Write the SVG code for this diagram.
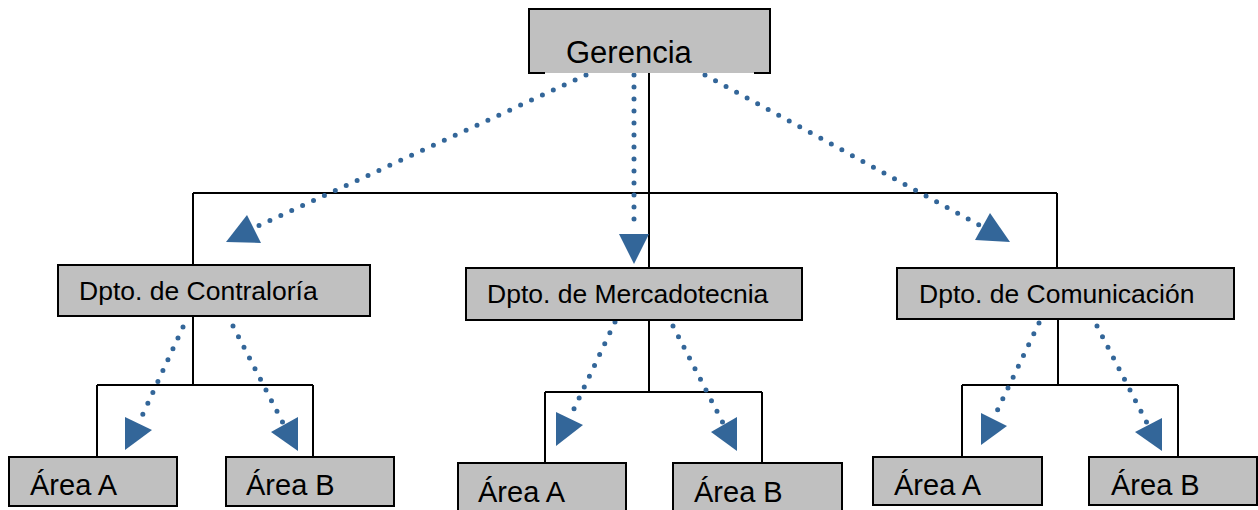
<svg xmlns="http://www.w3.org/2000/svg" width="1258" height="510" viewBox="0 0 1258 510">
<style>
.box{fill:#c0c0c0;stroke:#000;stroke-width:2}
.t{font-family:"Liberation Sans",Arial,sans-serif;fill:#000}
.tree{fill:none;stroke:#000;stroke-width:2}
.dot{fill:none;stroke:#336699;stroke-width:5;stroke-linecap:round;stroke-dasharray:0 12}
.head{fill:#336699}
</style>
<rect width="1258" height="510" fill="#fff"/>
<g id="connectors">
<path class="tree" d="M649,73V193M193,193H1057M193,193V265M649,193V268M1057,193V268M193,316V385M97,385H313M97,385V457M313,385V457M649,320V392M545,392H762M545,392V463M762,392V463M1058,319V385M962,385H1178M962,385V457M1178,385V457"/>
<path class="dot" d="M586,75L256,227"/>
<polygon class="head" points="247,215 226,242 261,243"/>
<path class="dot" d="M634,75V231"/>
<polygon class="head" points="619,234 649,234 634,264"/>
<path class="dot" d="M705,75L981,226"/>
<polygon class="head" points="990,213 975,240 1010,242"/>
<path class="dot" d="M183,327L142,416"/>
<polygon class="head" points="125,417 125,450 152,430"/>
<path class="dot" d="M233,326L283,423"/>
<polygon class="head" points="298,417 298,451 271,432"/>
<path class="dot" d="M615,322L573,411"/>
<polygon class="head" points="556,412 556,446 583,425"/>
<path class="dot" d="M673,326L723,423"/>
<polygon class="head" points="737,417 737,451 711,432"/>
<path class="dot" d="M1039,323L997,411"/>
<polygon class="head" points="981,413 981,445 1007,426"/>
<path class="dot" d="M1097,326L1147,423"/>
<polygon class="head" points="1162,418 1162,451 1135,432"/>
</g>
<g id="gerencia">
<rect x="529" y="9" width="241" height="64" fill="#c0c0c0"/>
<path class="tree" d="M545,73H529V9H770V73H754"/>
<text class="t" x="566" y="63" font-size="31">Gerencia</text>
</g>
<g id="contraloria">
<rect class="box" x="58" y="265" width="312" height="51"/>
<text class="t" x="79" y="300" font-size="26.5">Dpto. de Contraloría</text>
</g>
<g id="mercadotecnia">
<rect class="box" x="466" y="268" width="336" height="52"/>
<text class="t" x="487" y="303" font-size="26.5">Dpto. de Mercadotecnia</text>
</g>
<g id="comunicacion">
<rect class="box" x="897" y="268" width="337" height="51"/>
<text class="t" x="919" y="303" font-size="26.5">Dpto. de Comunicación</text>
</g>
<g id="contraloria-area-a">
<rect class="box" x="9" y="457" width="168" height="49"/>
<text class="t" x="30" y="495" font-size="29">Área A</text>
</g>
<g id="contraloria-area-b">
<rect class="box" x="226" y="457" width="168" height="49"/>
<text class="t" x="246" y="495" font-size="29">Área B</text>
</g>
<g id="mercadotecnia-area-a">
<rect class="box" x="458" y="463" width="168" height="60"/>
<text class="t" x="478" y="502" font-size="29">Área A</text>
</g>
<g id="mercadotecnia-area-b">
<rect class="box" x="673" y="463" width="169" height="60"/>
<text class="t" x="694" y="502" font-size="29">Área B</text>
</g>
<g id="comunicacion-area-a">
<rect class="box" x="873" y="457" width="169" height="48"/>
<text class="t" x="894" y="495" font-size="29">Área A</text>
</g>
<g id="comunicacion-area-b">
<rect class="box" x="1089" y="457" width="168" height="48"/>
<text class="t" x="1111" y="495" font-size="29">Área B</text>
</g>
</svg>
